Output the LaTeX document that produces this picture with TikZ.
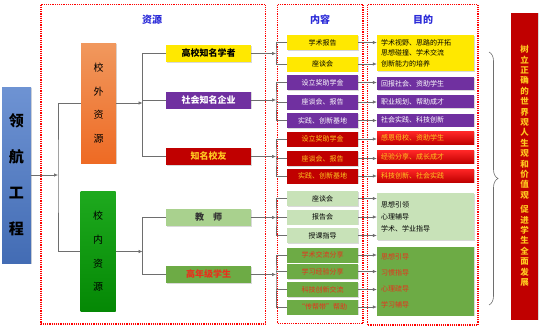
\documentclass[tikz,border=0pt]{standalone}
\usepackage{fontspec}
\setmainfont{Noto Sans CJK SC}
\usetikzlibrary{arrows.meta,shadows,decorations.pathreplacing}

\definecolor{lhblue}{HTML}{4A78C8}
\definecolor{myorange}{HTML}{EC7628}
\definecolor{sgreen}{HTML}{05A005}
\definecolor{myyellow}{HTML}{FFE800}
\definecolor{mypurple}{HTML}{7030A0}
\definecolor{myred}{HTML}{C00000}
\definecolor{lgreen}{HTML}{A9D18E}
\definecolor{pgreen}{HTML}{C8E2B8}
\definecolor{mgreen}{HTML}{6DAB45}
\definecolor{headblue}{HTML}{2B2BD8}
\definecolor{goldtext}{HTML}{FFC820}
\definecolor{redtext}{HTML}{E8301C}
\definecolor{linegray}{HTML}{6E6E6E}

\begin{document}
\begin{tikzpicture}[x=1pt,y=-1pt,
	shade/.style={drop shadow={opacity=0.3,shadow xshift=0.8pt,shadow yshift=-0.8pt}},
	lead/.style={shade,inner sep=0pt,minimum width=29pt,minimum height=176pt,align=center,font=\bfseries\fontsize{15}{36}\selectfont},
	src/.style={shade,inner sep=0pt,minimum width=35pt,minimum height=120pt,align=center,font=\fontsize{10}{23.6}\selectfont},
	lvl/.style={shade,inner sep=0pt,minimum width=85pt,minimum height=17pt,font=\bfseries\fontsize{9}{9}\selectfont},
	item/.style={shade,inner sep=0pt,minimum width=71pt,minimum height=15pt,font=\fontsize{7}{7}\selectfont},
	aim/.style={shade,inner xsep=4pt,inner ysep=0pt,text width=89pt,minimum height=13pt,align=left,font=\fontsize{7}{7}\selectfont},
	frame/.style={draw=red,densely dotted,line width=1.2pt},
	head/.style={text=headblue,font=\bfseries\fontsize{10}{10}\selectfont},
	link/.style={draw=linegray,line width=0.6pt},
	arr/.style={link,-{Latex[length=4pt,width=3.5pt]}}]
	\useasboundingbox (0,0) rectangle (540,327);
	% dotted frames and headings
	\draw[frame] (41,4.5) rectangle (265.7,324);
	\draw[frame] (277.7,4.5) rectangle (363,323.5);
	\draw[frame] (367.5,4.5) rectangle (478,325);
	\node[head] (hzy) at (152,20) {资源};
	\node[head] (hnr) at (320,20) {内容};
	\node[head] (hmd) at (423,20) {目的};
	% project and resources
	\node[lead,top color=lhblue!80!white,bottom color=lhblue!90!black] (lh) at (16.5,175) {领\\航\\工\\程};
	\node[src,top color=myorange!75!white,bottom color=myorange!90!red] (wai) at (98.5,103) {校\\外\\资\\源};
	\node[src,top color=sgreen!90!white,bottom color=sgreen!85!black] (nei) at (98,251.5) {校\\内\\资\\源};
	% second level
	\node[lvl,fill=myyellow] (gx) at (208.5,53.5) {高校知名学者};
	\node[lvl,fill=mypurple,text=white] (sh) at (208.5,100) {社会知名企业};
	\node[lvl,fill=myred,text=goldtext] (zm) at (208.5,156.5) {知名校友};
	\node[lvl,fill=lgreen,text=black!80] (js) at (208.5,217.5) {教\quad 师};
	\node[lvl,fill=mgreen,text=redtext] (gn) at (208.5,274.5) {高年级学生};
	% contents
	\node[item,fill=myyellow] (c1) at (322.5,42.5) {学术报告};
	\node[item,fill=myyellow] (c2) at (322.5,64) {座谈会};
	\node[item,fill=mypurple,text=white] (c3) at (322.5,82.5) {设立奖助学金};
	\node[item,fill=mypurple,text=white] (c4) at (322.5,102) {座谈会、报告};
	\node[item,fill=mypurple,text=white] (c5) at (322.5,120.5) {实践、创新基地};
	\node[item,fill=myred,text=goldtext] (c6) at (322.5,139) {设立奖助学金};
	\node[item,fill=myred,text=goldtext] (c7) at (322.5,158.5) {座谈会、报告};
	\node[item,fill=myred,text=goldtext] (c8) at (322.5,176) {实践、创新基地};
	\node[item,fill=pgreen] (c9) at (322.5,198.5) {座谈会};
	\node[item,fill=pgreen] (c10) at (322.5,217) {报告会};
	\node[item,fill=pgreen] (c11) at (322.5,235.5) {授课指导};
	\node[item,fill=mgreen,text=redtext] (c12) at (322.5,255) {学术交流分享};
	\node[item,fill=mgreen,text=redtext] (c13) at (322.5,271.5) {学习经验分享};
	\node[item,fill=mgreen,text=redtext] (c14) at (322.5,289.5) {科技创新交流};
	\node[item,fill=mgreen,text=redtext] (c15) at (322.5,307) {“传帮带”帮助};
	% aims
	\node[aim,fill=myyellow,minimum height=36pt,font=\fontsize{7}{10.5}\selectfont] (a1) at (425.5,53) {学术视野、思路的开拓\\思想碰撞、学术交流\\创新能力的培养};
	\node[aim,fill=mypurple,text=white] (a2) at (425.5,83.5) {回报社会、资助学生};
	\node[aim,fill=mypurple,text=white] (a3) at (425.5,101.5) {职业规划、帮助成才};
	\node[aim,fill=mypurple,text=white] (a4) at (425.5,120) {社会实践、科技创新};
	\node[aim,top color=red!85!white,bottom color=myred,text=goldtext] (a5) at (425.5,138) {感恩母校、资助学生};
	\node[aim,top color=red!85!white,bottom color=myred,text=goldtext] (a6) at (425.5,157) {经验分享、成长成才};
	\node[aim,top color=red!85!white,bottom color=myred,text=goldtext] (a7) at (425.5,175.5) {科技创新、社会实践};
	\node[aim,fill=pgreen,minimum height=47pt,font=\fontsize{7}{12}\selectfont] (a8) at (425.5,216.5) {思想引领\\心理辅导\\学术、学业指导};
	\node[aim,fill=mgreen,text=redtext,minimum height=69pt,font=\fontsize{7}{16}\selectfont] (a9) at (425.5,281) {思想引导\\习惯指导\\心理疏导\\学习辅导};
	% goal
	\node[shade,fill=myred,text=goldtext,inner sep=0pt,minimum width=27pt,minimum height=307pt,align=center,font=\bfseries\fontsize{8.5}{10.4}\selectfont] (goal) at (524.5,166)
		{树\\立\\正\\确\\的\\世\\界\\观\\人\\生\\观\\和\\价\\值\\观\\[4pt]促\\进\\学\\生\\全\\面\\发\\展};
	% branch points
	\coordinate (b0) at (58,175);
	\coordinate (b1) at (142.5,103);
	\coordinate (b2) at (142.5,251.5);
	\coordinate (k1) at (276,53.5);
	\coordinate (k2) at (276,100);
	\coordinate (k3) at (276,156.5);
	\coordinate (k4) at (276,217.5);
	\coordinate (k5) at (276,274.5);
	% trees
	\draw[arr] (lh.east) -- (b0);
	\draw[link] (wai.west) -| (b0) |- (nei.west);
	\draw[arr] (wai.east) -- (b1);
	\draw[link] (gx.west) -| (b1) |- (zm.west);
	\draw[link] (sh.west) -- (sh.west -| b1);
	\draw[arr] (nei.east) -- (b2);
	\draw[link] (js.west) -| (b2) |- (gn.west);
	\foreach \s/\k in {gx/k1, sh/k2, zm/k3, js/k4, gn/k5}
		\draw[arr] (\s.east) -- (\k);
	\draw[link] (c1.west) -| (k1) |- (c2.west);
	\draw[link] (c3.west) -| (k2) |- (c5.west);
	\draw[link] (c6.west) -| (k3) |- (c8.west);
	\draw[link] (c9.west) -| (k4) |- (c11.west);
	\draw[link] (c12.west) -| (k5) |- (c15.west);
	\foreach \c/\k in {c4/k2, c7/k3, c10/k4, c13/k5, c14/k5}
		\draw[link] (\c.west) -- (\c.west -| \k);
	% contents to aims
	\foreach \c/\a in {c1/a1, c2/a1, c3/a2, c4/a3, c5/a4, c6/a5, c7/a6, c8/a7, c9/a8, c10/a8, c11/a8, c12/a9, c13/a9, c14/a9, c15/a9}
		\draw[arr] (\c.east) -- (\c.east -| \a.west);
	% brace towards the goal
	\coordinate (bt) at (489,52);
	\coordinate (bb) at (489,305);
	\draw[link,decorate,decoration={brace,amplitude=9pt}] (bt) -- (bb);
\end{tikzpicture}
\end{document}
